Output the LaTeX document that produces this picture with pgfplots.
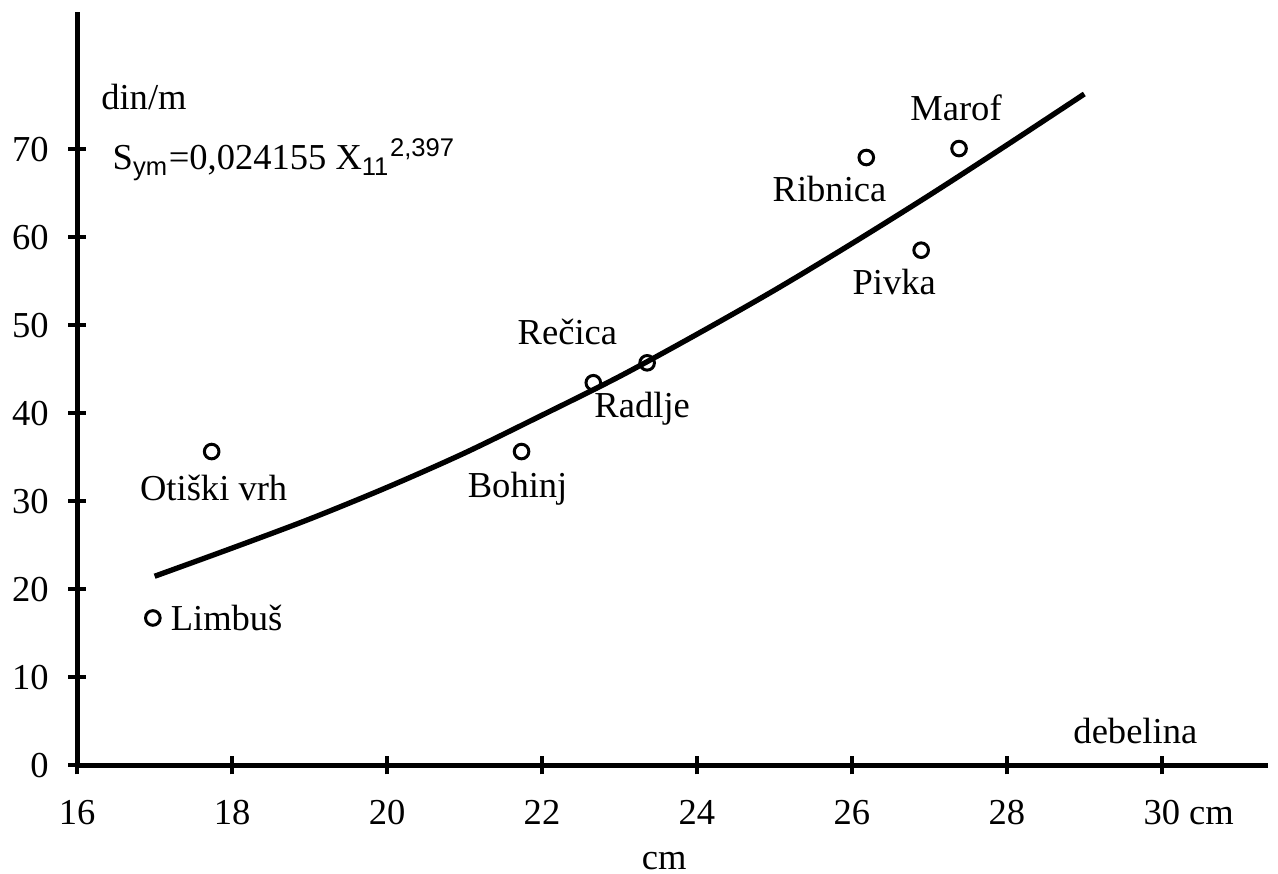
\documentclass[border=0pt]{standalone}
\usepackage{pgfplots}
\pgfplotsset{compat=1.18}
\usepackage{fontspec}
\setmainfont{Liberation Serif}
\newfontfamily\subfont{Liberation Sans}

\begin{document}
\fontsize{11}{13}\selectfont
\begin{tikzpicture}
\begin{axis}[
  scale only axis,
  width=358.5pt, height=226.8pt,
  xmin=16, xmax=31.37, ymin=0, ymax=85.6,
  axis x line=bottom, axis y line=left,
  axis line style={line width=1.5pt, -},
  xtick={16,18,...,30},
  xticklabels={16,18,20,22,24,26,28,{30\rlap{ cm}}},
  ytick={0,10,...,70},
  tick align=center,
  major tick length=5.4pt,
  tick style={line width=1.2pt, black},
  /pgf/number format/assume math mode=true,
  tick label style={font=\fontsize{11}{13}\selectfont},
  xticklabel style={yshift=-4pt},
  yticklabel style={xshift=-2pt},
  clip=false,
]
% invisible frame fixing the picture size
\path (axis cs:15.061,-12.0) rectangle (axis cs:31.50,86.98);

% fitted curve S_ym = 0.024155 X^2.397
\addplot[black, line width=1.6pt, smooth] coordinates {
  (17,21.5) (18,24.7) (19,28.0) (20,31.6) (21,35.5) (22,39.8)
  (23,44.2) (24,49.0) (25,54.0) (26,59.3) (27,64.8) (28,70.5) (29,76.3)
};

% observed sites
\addplot[only marks, mark=o, mark size=2.2pt, mark options={line width=0.9pt, fill=white}, black] coordinates {
  (16.977,16.76) (17.736,35.67) (21.736,35.67) (22.662,43.49)
  (23.357,45.75) (26.186,69.08) (27.383,70.10) (26.894,58.55)
};

\node[anchor=west, inner sep=0] at (axis cs:17.20,16.76) {Limbuš};
\node at (axis cs:17.762,31.48) {Otiški vrh};
\node at (axis cs:21.685,31.48) {Bohinj};
\node at (axis cs:22.328,49.26) {Rečica};
\node at (axis cs:23.293,40.54) {Radlje};
\node at (axis cs:25.711,65.46) {Ribnica};
\node at (axis cs:27.344,74.75) {Marof};
\node at (axis cs:26.547,54.93) {Pivka};

\node at (axis cs:16.862,75.99) {din/m};
\node[anchor=west, inner sep=0] at (axis cs:16.45,68.86)
  {S\textsubscript{\subfont ym}=0,024155 X\textsubscript{\subfont 11}\textsuperscript{\subfont 2,397}};
\node at (axis cs:29.659,3.96) {debelina};
\node[inner sep=1pt] at (axis cs:23.576,-10.9) {cm};
\end{axis}
\end{tikzpicture}
\end{document}
